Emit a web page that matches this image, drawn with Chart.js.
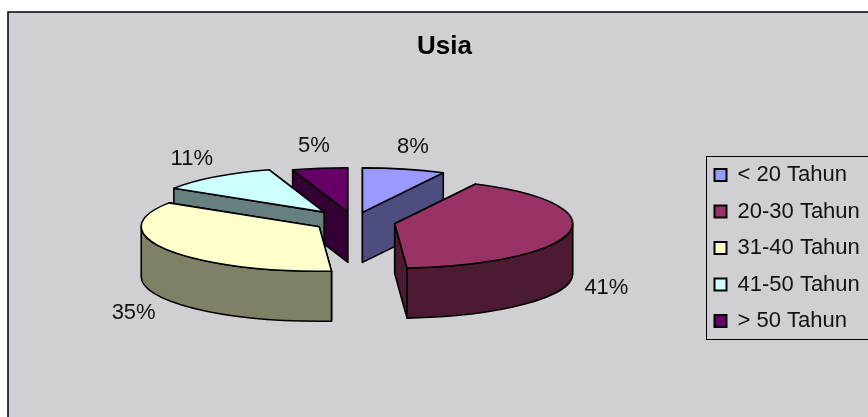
<!DOCTYPE html>
<html>
<head>
<meta charset="utf-8">
<style>
html,body{margin:0;padding:0;background:#fff;overflow:hidden}
canvas{display:block}
</style>
<script src="https://cdn.jsdelivr.net/npm/chart.js@4/dist/chart.umd.js"></script>
</head>
<body>
<canvas id="usia" width="868" height="417"></canvas>
<script>
const categories = ["< 20 Tahun", "20-30 Tahun", "31-40 Tahun", "41-50 Tahun", "> 50 Tahun"]
const values = [7.5, 41.4, 35.1, 11, 5]
const colors = ["#9999FF", "#993366", "#FFFFCC", "#CCFFFF", "#660066"]
const wallColors = ["#4D4D80", "#4D1A33", "#808066", "#668080", "#330033"]
const explode = [38, 42, 40, 48, 38]
const drawOrder = [4, 0, 3, 1, 2]

const RADIUS = 178
const SQUASH = 0.25
const DEPTH = 50
const FONT = "Liberation Sans, Arial, sans-serif"

function apex(arc, i){
  const mid = (arc.startAngle + arc.endAngle) / 2
  return {
    x: arc.x + Math.cos(mid) * explode[i],
    y: arc.y + Math.sin(mid) * explode[i] * SQUASH
  }
}

function drawWalls(ctx, arc, i, p){
  const r = arc.outerRadius
  const rims = [arc.startAngle, arc.endAngle].sort((a, b) => Math.sin(a) - Math.sin(b))
  ctx.fillStyle = wallColors[i]

  rims.forEach(a => {
    const x = p.x + Math.cos(a) * r
    const y = p.y + Math.sin(a) * r * SQUASH
    ctx.beginPath()
    ctx.moveTo(p.x, p.y)
    ctx.lineTo(x, y)
    ctx.lineTo(x, y + DEPTH)
    ctx.lineTo(p.x, p.y + DEPTH)
    ctx.closePath()
    ctx.fill()
    ctx.stroke()
  })

  const from = Math.max(arc.startAngle, 0)
  const to = Math.min(arc.endAngle, Math.PI)
  if(from < to){
    ctx.beginPath()
    ctx.ellipse(p.x, p.y, r, r * SQUASH, 0, from, to)
    ctx.ellipse(p.x, p.y + DEPTH, r, r * SQUASH, 0, to, from, true)
    ctx.closePath()
    ctx.fill()
    ctx.stroke()
  }
}

const pie3d = {
  id: "pie3d",
  afterLayout(chart){
    // legend box sits lower than the pie centre and runs off the right edge
    const l = chart.legend
    const dy = 248 - (l.top + l.bottom) / 2
    const w = l.right - l.left
    l.left = 700
    l.right = 700 + w
    l.top += dy
    l.bottom += dy
    l.adjustHitBoxes()
    chart.titleBlock.left += 6
    chart.titleBlock.right += 6
  },
  beforeDraw(chart){
    const ctx = chart.ctx
    ctx.save()
    ctx.fillStyle = "#D0CFD4"
    ctx.strokeStyle = "#000"
    ctx.lineWidth = 1.5
    ctx.beginPath()
    ctx.rect(8, 12, 880, 430)
    ctx.fill()
    ctx.stroke()
    ctx.restore()
  },
  beforeDatasetDraw(chart){
    const ctx = chart.ctx
    const arcs = chart.getDatasetMeta(0).data
    ctx.save()
    ctx.strokeStyle = "#000"
    ctx.lineWidth = 1.6
    ctx.lineJoin = "round"

    drawOrder.forEach(i => {
      const arc = arcs[i]
      const p = apex(arc, i)
      drawWalls(ctx, arc, i, p)

      // top face goes through the library, squashed into an ellipse
      ctx.save()
      ctx.translate(p.x, p.y)
      ctx.scale(1, SQUASH)
      ctx.translate(-arc.x, -arc.y)
      arc.draw(ctx)
      ctx.restore()

      ctx.beginPath()
      ctx.moveTo(p.x, p.y)
      ctx.ellipse(p.x, p.y, arc.outerRadius, arc.outerRadius * SQUASH, 0, arc.startAngle, arc.endAngle)
      ctx.closePath()
      ctx.stroke()
    })
    ctx.restore()
    return false
  },
  afterDatasetsDraw(chart){
    const ctx = chart.ctx
    const arcs = chart.getDatasetMeta(0).data
    ctx.save()
    ctx.font = "22px " + FONT
    ctx.fillStyle = "#111"
    ctx.textAlign = "center"
    ctx.textBaseline = "middle"
    arcs.forEach((arc, i) => {
      const p = apex(arc, i)
      const mid = (arc.startAngle + arc.endAngle) / 2
      const r = arc.outerRadius
      let y = p.y + Math.sin(mid) * (r * SQUASH + 24) + 1
      if(Math.sin(mid) > 0) y += DEPTH
      ctx.fillText(Math.round(values[i]) + "%", p.x + Math.cos(mid) * (r + 38), y)
    })
    ctx.restore()
  },
  afterDraw(chart){
    const ctx = chart.ctx
    const boxes = chart.legend.legendHitBoxes
    const top = boxes[0].top + boxes[0].height / 2 - 19
    const bottom = boxes[4].top + boxes[4].height / 2 + 18
    ctx.save()
    ctx.strokeStyle = "#000"
    ctx.lineWidth = 1
    ctx.strokeRect(706.5, Math.round(top) + 0.5, 200, Math.round(bottom - top))
    ctx.restore()
  }
}

new Chart(document.getElementById("usia"), {
  type: "pie",
  data: {
    labels: categories,
    datasets: [{
      data: values,
      backgroundColor: colors,
      borderWidth: 0
    }]
  },
  options: {
    responsive: false,
    animation: false,
    events: [],
    radius: RADIUS,
    layout: { padding: { left: 9, right: 0, top: 0, bottom: 37 } },
    plugins: {
      tooltip: { enabled: false },
      title: {
        display: true,
        text: "Usia",
        color: "#000",
        font: { family: FONT, size: 26, weight: "bold", lineHeight: 1.2 },
        padding: { top: 31, bottom: 1 }
      },
      legend: {
        position: "right",
        labels: {
          color: "#111",
          font: { family: FONT, size: 22 },
          boxWidth: 12,
          boxHeight: 12,
          padding: 14.5,
          generateLabels(chart){
            return Chart.overrides.pie.plugins.legend.labels.generateLabels(chart).map(item => {
              item.lineWidth = 2
              item.strokeStyle = "#000"
              return item
            })
          }
        }
      }
    }
  },
  plugins: [pie3d]
})
</script>
</body>
</html>
